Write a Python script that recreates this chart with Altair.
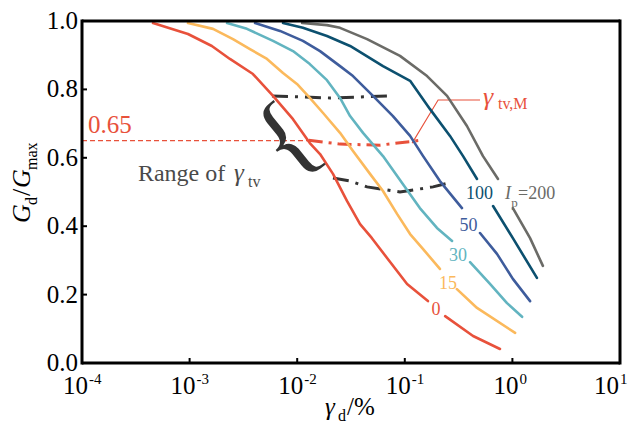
import altair as alt
import pandas as pd

FONT = "Liberation Serif"

SERIES = ["0", "15", "30", "50", "100", "200"]
COLORS = ["#e8513b", "#fbb95c", "#62b4c0", "#3e5c9c", "#0c506f", "#6b6b67"]

# None marks the gap in a curve where its label sits
IP0_X = [4.57e-4, 9.66e-4, 1.61e-3, 2.37e-3, 3.88e-3, 5.96e-3, 9.14e-3, 0.0131, 0.0163, 0.0215,
         0.0290, 0.0384, 0.0495, 0.0684, 0.105, 0.164, None, 0.237, 0.431, 0.767]
IP0_Y = [0.994, 0.962, 0.927, 0.889, 0.845, 0.781, 0.713, 0.643, 0.611, 0.553,
         0.474, 0.406, 0.365, 0.307, 0.231, 0.181, None, 0.137, 0.079, 0.041]

IP15_X = [9.66e-4, 1.65e-3, 2.53e-3, 3.64e-3, 5.24e-3, 7.38e-3, 9.95e-3, 0.0131, 0.0174, 0.0250,
          0.0330, 0.0475, 0.0627, 0.0847, 0.112, 0.148, 0.212, None, 0.305, 0.469, 1.06]
IP15_Y = [0.994, 0.977, 0.947, 0.918, 0.889, 0.848, 0.816, 0.775, 0.731, 0.673,
          0.620, 0.553, 0.503, 0.436, 0.377, 0.333, 0.275, None, 0.216, 0.161, 0.088]

IP30_X = [2.23e-3, 3.41e-3, 5.96e-3, 9.14e-3, 0.0131, 0.0189, 0.0250, 0.0310, 0.0409, 0.0627,
          0.0962, 0.138, 0.199, 0.275, None, 0.404, 0.619, 0.891, 1.23]
IP30_Y = [0.994, 0.977, 0.942, 0.912, 0.874, 0.827, 0.775, 0.722, 0.673, 0.605,
          0.523, 0.453, 0.395, 0.357, None, 0.295, 0.231, 0.175, 0.135]

IP50_X = [4.06e-3, 6.92e-3, 0.0113, 0.0163, 0.0250, 0.0330, 0.0506, 0.0776, 0.112, 0.148,
          0.212, 0.340, None, 0.500, 0.719, 1.01, 1.46]
IP50_Y = [0.994, 0.971, 0.942, 0.912, 0.868, 0.839, 0.781, 0.722, 0.664, 0.605,
          0.532, 0.453, None, 0.380, 0.319, 0.246, 0.181]

IP100_X = [7.38e-3, 0.0113, 0.0189, 0.0310, 0.0627, 0.112, 0.171, 0.263, 0.348, 0.469,
           None, 0.661, 1.01, 1.69]
IP100_Y = [0.994, 0.980, 0.956, 0.927, 0.868, 0.825, 0.743, 0.664, 0.605, 0.538,
           None, 0.459, 0.365, 0.249]

IP200_X = [0.0111, 0.0189, 0.0250, 0.0446, 0.0902, 0.161, 0.247, 0.378, 0.533, 0.735,
           None, 1.01, 1.46, 1.92]
IP200_Y = [0.994, 0.988, 0.980, 0.947, 0.898, 0.839, 0.781, 0.693, 0.605, 0.538,
           None, 0.453, 0.365, 0.284]

CURVES = [IP0_X, IP15_X, IP30_X, IP50_X, IP100_X, IP200_X]
CURVES_Y = [IP0_Y, IP15_Y, IP30_Y, IP50_Y, IP100_Y, IP200_Y]

# curve labels
LABEL_TEXT = ["0", "15", "30", "50", "100"]
LABEL_X = [0.195, 0.252, 0.312, 0.391, 0.494]
LABEL_Y = [0.140, 0.216, 0.298, 0.386, 0.480]

# annotation lines
REF_X = [1e-4, 0.0128]
REF_Y = [0.65, 0.65]
TVM_X = [0.0128, 0.0250, 0.0589, 0.148]
TVM_Y = [0.651, 0.640, 0.637, 0.652]
RANGE_HI_X = [5.83e-3, 0.0202, 0.0760]
RANGE_HI_Y = [0.781, 0.775, 0.781]
RANGE_LO_X = [0.0215, 0.0310, 0.0446, 0.0902, 0.183, 0.275]
RANGE_LO_Y = [0.541, 0.532, 0.515, 0.500, 0.515, 0.529]
LEADER_X = [0.117, 0.204, 0.500]
LEADER_Y = [0.643, 0.769, 0.769]

XTICKS = [1e-4, 1e-3, 1e-2, 1e-1, 1, 10]
XEXP = ["-4", "-3", "-2", "-1", "0", "1"]
YTICKS = [0.0, 0.2, 0.4, 0.6, 0.8, 1.0]
YLABELS = ["0.0", "0.2", "0.4", "0.6", "0.8", "1.0"]

RED = "#e8513b"
W, H = 538, 342

XS = alt.Scale(type="log", domain=[1e-4, 10], nice=False)
YS = alt.Scale(domain=[0, 1], nice=False, zero=False)
CS = alt.Scale(domain=SERIES, range=COLORS)


def ex(f="x"):
    return alt.X(f"{f}:Q", scale=XS, axis=None)


def ey(f="y"):
    return alt.Y(f"{f}:Q", scale=YS, axis=None)


def tprops(size, color=None, style=None, align="left", baseline="alphabetic", angle=None, dx=None):
    kw = dict(font=FONT, fontSize=size, align=align, baseline=baseline)
    if color:
        kw["color"] = color
    if style:
        kw["fontStyle"] = style
    if angle:
        kw["angle"] = angle
    if dx is not None:
        kw["dx"] = dx
    return kw


rows = []
for name, xs, ys in zip(SERIES, CURVES, CURVES_Y):
    seg = 0
    for i, (x, y) in enumerate(zip(xs, ys)):
        if x is None:
            seg += 1
            continue
        rows.append({"ip": name, "seg": f"{name}-{seg}", "i": i, "x": x, "y": y})
curves = pd.DataFrame(rows)

lines = alt.Chart(curves).mark_line(strokeWidth=2.6, strokeCap="round", strokeJoin="round").encode(
    x=ex(), y=ey(), color=alt.Color("ip:N", scale=CS, legend=None), detail="seg:N", order="i:Q"
)


def dline(xs, ys, color, width, dash=None):
    df = pd.DataFrame({"x": xs, "y": ys, "i": list(range(len(xs)))})
    kw = dict(color=color, strokeWidth=width)
    if dash:
        kw["strokeDash"] = dash
    return alt.Chart(df).mark_line(**kw).encode(x=ex(), y=ey(), order="i:Q")


def dtext(xs, ys, texts, size, color, style=None, align="center", baseline="alphabetic", angle=None):
    df = pd.DataFrame({"x": xs, "y": ys, "t": texts})
    return alt.Chart(df).mark_text(**tprops(size, color, style, align, baseline, angle)).encode(
        x=ex(), y=ey(), text="t:N")


ONE = pd.DataFrame({"k": [0]})


def piece(text, px, py, size, color="black", style=None, angle=None, align="left"):
    return alt.Chart(ONE).mark_text(text=text, **tprops(size, color, style, align, "alphabetic", angle)).encode(
        x=alt.value(px), y=alt.value(py))


layers = [
    dline(REF_X, REF_Y, RED, 1.2, [5, 3]),
    dline(RANGE_HI_X, RANGE_HI_Y, "#333333", 3, [16, 7, 3, 7]),
    dline(RANGE_LO_X, RANGE_LO_Y, "#333333", 3, [16, 7, 3, 7]),
    dline(TVM_X, TVM_Y, RED, 3, [14, 6, 3, 6]),
    dline(LEADER_X, LEADER_Y, RED, 1.1),
    lines,
]

# curve labels
lab_df = pd.DataFrame({"x": LABEL_X, "y": LABEL_Y, "t": LABEL_TEXT, "ip": LABEL_TEXT})
layers.append(alt.Chart(lab_df).mark_text(**tprops(18, align="center")).encode(
    x=ex(), y=ey(), text="t:N", color=alt.Color("ip:N", scale=CS, legend=None)))
GRAY = COLORS[5]
layers.append(dtext([0.853], [0.480], ["I"], 18, GRAY, style="italic", align="left"))
layers.append(dtext([0.975], [0.457], ["p"], 13, GRAY, align="left"))
layers.append(dtext([1.13], [0.480], ["=200"], 18, GRAY, align="left"))

# annotations
layers.append(dtext([1.14e-4], [0.673], ["0.65"], 25, RED, align="left"))
layers.append(dtext([3.31e-4], [0.532], ["Range of"], 24, "#4a4a4a", align="left"))
layers.append(dtext([2.59e-3], [0.532], ["γ"], 25, "#4a4a4a", style="italic", align="left"))
layers.append(dtext([3.49e-3], [0.516], ["tv"], 16, "#4a4a4a", align="left"))
layers.append(dtext([0.533], [0.754], ["γ"], 26, RED, style="italic", align="left"))
layers.append(dtext([0.734], [0.743], ["tv,M"], 16, RED, align="left"))
layers.append(dtext([8.0e-3], [0.652], ["{"], 100, "#333333", baseline="middle", angle=321))

# ticks (inward)
layers.append(alt.Chart(pd.DataFrame({"x": XTICKS})).mark_rule(color="black", strokeWidth=2).encode(
    x=ex(), y=alt.value(H), y2=alt.value(H - 5)))
layers.append(alt.Chart(pd.DataFrame({"y": YTICKS})).mark_rule(color="black", strokeWidth=2).encode(
    y=ey(), x=alt.value(0), x2=alt.value(5)))

# tick labels (the last one nudged in so it stays on the page)
xl = pd.DataFrame({"x": XTICKS[:-1], "t": ["10"] * (len(XTICKS) - 1), "e": XEXP[:-1]})
xl_last = pd.DataFrame({"x": XTICKS[-1:], "t": ["10"], "e": XEXP[-1:]})
layers.append(alt.Chart(xl).mark_text(**tprops(25, "black", align="right", dx=6)).encode(
    x=ex(), y=alt.value(H + 31), text="t:N"))
layers.append(alt.Chart(xl).mark_text(**tprops(15, "black", align="left", dx=7)).encode(
    x=ex(), y=alt.value(H + 21), text="e:N"))
layers.append(alt.Chart(xl_last).mark_text(**tprops(25, "black", align="right", dx=-1)).encode(
    x=ex(), y=alt.value(H + 31), text="t:N"))
layers.append(alt.Chart(xl_last).mark_text(**tprops(15, "black", align="left", dx=0)).encode(
    x=ex(), y=alt.value(H + 21), text="e:N"))
yl = pd.DataFrame({"y": YTICKS, "t": YLABELS})
layers.append(alt.Chart(yl).mark_text(**tprops(25, "black", align="right", baseline="middle")).encode(
    y=ey(), x=alt.value(-4), text="t:N"))

# axis titles
layers += [
    piece("G", -52, 202, 26, style="italic", angle=270),
    piece("d", -45, 184, 16, angle=270),
    piece("/", -52, 175, 26, angle=270),
    piece("G", -52, 167, 26, style="italic", angle=270),
    piece("max", -45, 149, 16, angle=270),
    piece("γ", 243, 394, 25, style="italic"),
    piece("d", 256, 400, 16),
    piece("/%", 265, 394, 25),
]

# frame: four heavy black rules
FW = 3
layers += [
    alt.Chart(ONE).mark_rule(color="black", strokeWidth=FW, opacity=1).encode(
        x=alt.value(0), x2=alt.value(W), y=alt.value(0)),
    alt.Chart(ONE).mark_rule(color="black", strokeWidth=FW, opacity=1).encode(
        x=alt.value(0), x2=alt.value(W), y=alt.value(H)),
    alt.Chart(ONE).mark_rule(color="black", strokeWidth=FW, opacity=1).encode(
        y=alt.value(-1.5), y2=alt.value(H + 1.5), x=alt.value(0)),
    alt.Chart(ONE).mark_rule(color="black", strokeWidth=FW, opacity=1).encode(
        y=alt.value(-1.5), y2=alt.value(H + 1.5), x=alt.value(W)),
]

chart = alt.layer(*layers).properties(
    width=W, height=H, background="white",
    padding={"left": 74, "top": 13, "right": 8, "bottom": 61},
    autosize=alt.AutoSizeParams(type="none"),
).configure_view(strokeWidth=0)

chart.save("out.html", embed_options={"renderer": "svg", "actions": False})
